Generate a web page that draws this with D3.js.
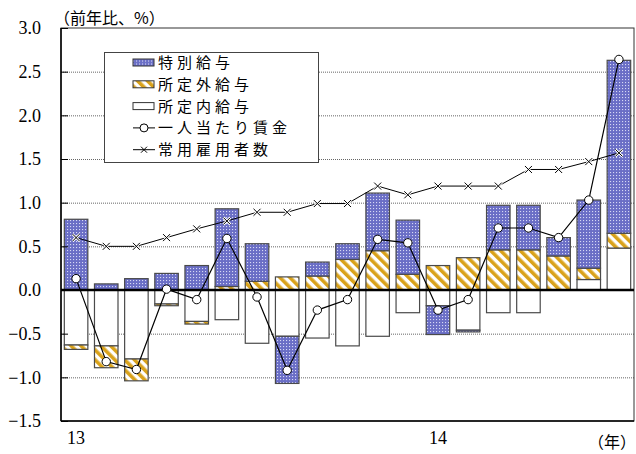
<!DOCTYPE html>
<html>
<head>
<meta charset="utf-8">
<script src="https://cdn.jsdelivr.net/npm/d3@7"></script>
<style>
  html, body { margin: 0; padding: 0; background: #fff; }
  svg { display: block; }
  svg text.serif { font-family: "Liberation Serif", serif !important; }
</style>
</head>
<body>
<svg id="chart" width="636" height="454"></svg>
<script>
// Months: Jan 2013 – Jul 2014
const months = ["2013-01","2013-02","2013-03","2013-04","2013-05","2013-06","2013-07","2013-08","2013-09","2013-10","2013-11","2013-12","2014-01","2014-02","2014-03","2014-04","2014-05","2014-06","2014-07"];
const yearTickLabels = ["13", "14"];

// Contributions to the year-on-year change (%)
const scheduledPay = [-0.63,-0.64,-0.79,-0.16,-0.36,-0.34,-0.61,-0.53,-0.55,-0.64,-0.53,-0.26,-0.18,-0.46,-0.26,-0.26,0.00,0.12,0.48];   // 所定内給与
const overtimePay  = [-0.05,-0.25,-0.25,-0.02,-0.03,0.04,0.10,0.15,0.16,0.35,0.45,0.18,0.28,0.37,0.46,0.46,0.39,0.13,0.17];              // 所定外給与
const bonusPay     = [0.81,0.07,0.13,0.19,0.28,0.89,0.43,-0.54,0.16,0.18,0.66,0.62,-0.33,-0.02,0.51,0.51,0.21,0.78,1.98];               // 特別給与

// Lines (%)
const wagePerHead  = [0.13,-0.82,-0.91,0.01,-0.11,0.59,-0.08,-0.92,-0.23,-0.11,0.58,0.54,-0.23,-0.11,0.71,0.71,0.60,1.03,2.64];          // 一人当たり賃金
const employees    = [0.60,0.50,0.50,0.60,0.70,0.79,0.89,0.89,0.99,0.99,1.19,1.09,1.19,1.19,1.19,1.38,1.38,1.47,1.57];                 // 常用雇用者数

const yTicks = [-1.5,-1.0,-0.5,0.0,0.5,1.0,1.5,2.0,2.5,3.0];

const JP = '"Noto Sans CJK JP", "Noto Sans", sans-serif';

const svg = d3.select("#chart");
const plot = { left: 61, right: 634, top: 28, bottom: 421 };

const x = d3.scaleBand().domain(d3.range(months.length)).range([plot.left, plot.right]).paddingInner(0.22).paddingOuter(0.11);
const y = d3.scaleLinear().domain([-1.5, 3.0]).range([plot.bottom, plot.top]);

// Fill patterns
const defs = svg.append("defs");
const dots = defs.append("pattern").attr("id", "dots").attr("patternUnits", "userSpaceOnUse").attr("width", 3).attr("height", 3);
dots.append("rect").attr("width", 3).attr("height", 3).attr("fill", "#6a6ec6");
dots.append("rect").attr("x", 1).attr("y", 1).attr("width", 1.1).attr("height", 1.1).attr("fill", "#d6d8f4");

const stripes = defs.append("pattern").attr("id", "stripes").attr("patternUnits", "userSpaceOnUse")
  .attr("width", 7).attr("height", 7).attr("patternTransform", "rotate(-45)");
stripes.append("rect").attr("width", 7).attr("height", 7).attr("fill", "#ffffff");
stripes.append("rect").attr("width", 3.6).attr("height", 7).attr("fill", "#d9a21b");

// Gridlines
const grid = svg.append("g").attr("transform", `translate(${plot.left},0)`)
  .call(d3.axisLeft(y).tickValues(yTicks.filter(v => v !== 0 && v !== -1.5 && v !== 3.0)).tickSize(-(plot.right - plot.left)).tickFormat(""));
grid.select(".domain").remove();
grid.selectAll("line").attr("stroke", "#666").attr("stroke-dasharray", "1,1");

// Stacked bars (positives and negatives stacked separately)
const keys = ["scheduled", "overtime", "bonus"];
const fills = { scheduled: "#ffffff", overtime: "url(#stripes)", bonus: "url(#dots)" };
const rows = months.map((m, i) => ({ i, scheduled: scheduledPay[i], overtime: overtimePay[i], bonus: bonusPay[i] }));
const series = d3.stack().keys(keys).offset(d3.stackOffsetDiverging)(rows);

svg.append("g").selectAll("g").data(series).join("g")
  .attr("fill", d => fills[d.key])
  .selectAll("rect").data(d => d).join("rect")
  .attr("x", d => x(d.data.i))
  .attr("width", x.bandwidth())
  .attr("y", d => y(Math.max(d[0], d[1])))
  .attr("height", d => Math.abs(y(d[0]) - y(d[1])))
  .attr("stroke", "#4a4a4a")
  .attr("stroke-width", 1.2);

// Frame
svg.append("rect").attr("x", plot.left).attr("y", plot.top).attr("width", plot.right - plot.left).attr("height", plot.bottom - plot.top)
  .attr("fill", "none").attr("stroke", "#333").attr("stroke-width", 1);
svg.append("line").attr("x1", plot.left).attr("x2", plot.left).attr("y1", plot.top).attr("y2", plot.bottom).attr("stroke", "#000").attr("stroke-width", 1.5);
svg.append("line").attr("x1", plot.left).attr("x2", plot.right).attr("y1", plot.bottom).attr("y2", plot.bottom).attr("stroke", "#000").attr("stroke-width", 1.5);

// Zero line
svg.append("line").attr("x1", plot.left).attr("x2", plot.right).attr("y1", y(0)).attr("y2", y(0)).attr("stroke", "#000").attr("stroke-width", 2.5);

// Y axis
const yAxis = svg.append("g").attr("transform", `translate(${plot.left},0)`)
  .call(d3.axisLeft(y).tickValues(yTicks).tickSize(-7).tickPadding(20).tickFormat(d3.format(".1f")));
yAxis.select(".domain").remove();
yAxis.selectAll("line").attr("stroke", "#000");
yAxis.selectAll("text").classed("serif", true).attr("font-size", 18).attr("fill", "#000");

// X axis year labels
const xAxis = svg.append("g").attr("transform", `translate(0,${plot.bottom})`)
  .call(d3.axisBottom(x).tickValues(months.map((m, i) => i).filter(i => months[i].endsWith("-01")))
    .tickSize(0).tickPadding(10)
    .tickFormat(i => yearTickLabels[+months[i].slice(0, 4) - 2013]));
xAxis.select(".domain").remove();
xAxis.selectAll("text").classed("serif", true).attr("font-size", 18).attr("fill", "#000");

// Lines
const cx = i => x(i) + x.bandwidth() / 2;
const lineGen = d3.line().x((d, i) => cx(i)).y(d => y(d));

svg.append("path").datum(employees).attr("d", lineGen).attr("fill", "none").attr("stroke", "#000").attr("stroke-width", 1);
svg.append("path").datum(wagePerHead).attr("d", lineGen).attr("fill", "none").attr("stroke", "#000").attr("stroke-width", 1.2);

const crossPath = s => `M${-s},${-s}L${s},${s}M${-s},${s}L${s},${-s}`;
const crosses = svg.append("g").selectAll("g").data(employees).join("g")
  .attr("transform", (d, i) => `translate(${cx(i)},${y(d)})`);
crosses.append("path").attr("d", crossPath(3.5)).attr("stroke", "#fff").attr("stroke-width", 2.6);
crosses.append("path").attr("d", crossPath(3.5)).attr("stroke", "#000").attr("stroke-width", 1);

svg.append("g").selectAll("circle").data(wagePerHead).join("circle")
  .attr("cx", (d, i) => cx(i)).attr("cy", d => y(d)).attr("r", 4.2)
  .attr("fill", "#fff").attr("stroke", "#000").attr("stroke-width", 1);

// Legend
const lg = svg.append("g");
lg.append("rect").attr("x", 104.5).attr("y", 52.5).attr("width", 214).attr("height", 110)
  .attr("fill", "#fff").attr("stroke", "#444").attr("stroke-width", 1);
const legendItems = [
  { label: "特別給与", type: "box", fill: "url(#dots)" },
  { label: "所定外給与", type: "box", fill: "url(#stripes)" },
  { label: "所定内給与", type: "box", fill: "#fff" },
  { label: "一人当たり賃金", type: "circle" },
  { label: "常用雇用者数", type: "cross" }
];
const rowY = i => 62.5 + i * 21.8;
legendItems.forEach((it, i) => {
  const g = lg.append("g").attr("transform", `translate(0,${rowY(i)})`);
  if (it.type === "box") {
    g.append("rect").attr("x", 133).attr("y", -3.5).attr("width", 21).attr("height", 7)
      .attr("fill", it.fill).attr("stroke", "#333").attr("stroke-width", 1);
  } else {
    g.append("line").attr("x1", 133).attr("x2", 155).attr("y1", 0).attr("y2", 0).attr("stroke", "#000");
    if (it.type === "circle") {
      g.append("circle").attr("cx", 144).attr("cy", 0).attr("r", 4).attr("fill", "#fff").attr("stroke", "#000");
    } else {
      g.append("path").attr("transform", "translate(144,0)").attr("d", crossPath(3)).attr("stroke", "#000");
    }
  }
  g.append("text").attr("x", 158).attr("y", 0).attr("dy", "0.36em")
    .attr("font-family", JP).attr("font-size", 15).attr("letter-spacing", 4).attr("fill", "#000").text(it.label);
});

// Unit labels
svg.append("text").attr("x", 54).attr("y", 24).attr("font-family", JP).attr("font-size", 16).attr("fill", "#000").text("（前年比、%）");
svg.append("text").attr("x", 636).attr("y", 448).attr("text-anchor", "end").attr("font-family", JP).attr("font-size", 16).attr("fill", "#000").text("（年）");
</script>
</body>
</html>
